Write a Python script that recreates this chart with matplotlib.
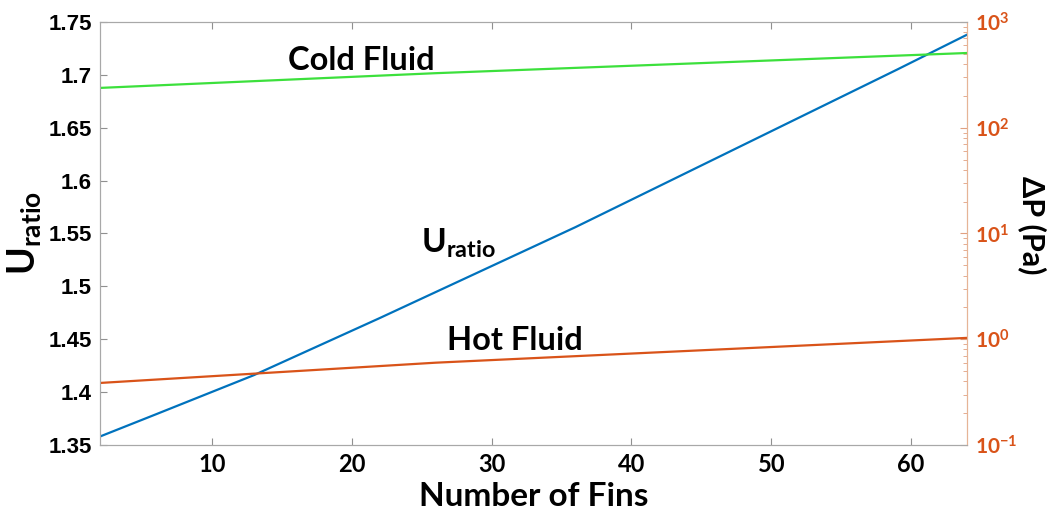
import numpy as np
import matplotlib
matplotlib.use("Agg")
import matplotlib.pyplot as plt
from matplotlib.ticker import FixedLocator, FuncFormatter, LogLocator, NullFormatter

plt.rcParams['mathtext.fontset'] = 'custom'
plt.rcParams['mathtext.bf'] = 'Lato:bold'
plt.rcParams['mathtext.sf'] = 'Lato:bold'
plt.rcParams['mathtext.rm'] = 'Lato'

# values
fins_u = [2, 6, 13, 22, 36, 59, 64]
u_ratio = [1.358, 1.379, 1.416, 1.470, 1.556, 1.705, 1.738]

fins_dp = [2, 26, 64]
dp_cold = [238, 328, 509]
dp_hot = [0.386, 0.60, 1.03]

x_ticks = [10, 20, 30, 40, 50, 60]
u_ticks = [1.35, 1.4, 1.45, 1.5, 1.55, 1.6, 1.65, 1.7, 1.75]

blue = '#0072BD'
orange = '#D95319'
green = '#3CE03C'
ytick_font = {'family': 'Liberation Sans', 'weight': 'bold', 'size': 16}
xtick_font = {'family': 'Lato', 'weight': 'bold', 'size': 17}

fig = plt.figure(figsize=(10.5, 5.21), dpi=100)
ax1 = fig.add_axes([0.0952, 0.1459, 0.8258, 0.8119])
ax2 = ax1.twinx()

ax1.plot(fins_u, u_ratio, color=blue, lw=1.6)
ax2.plot(fins_dp, dp_cold, color=green, lw=1.6)
ax2.plot(fins_dp, dp_hot, color=orange, lw=1.6)

ax1.set_xlim(2, 64)
ax1.set_ylim(1.35, 1.75)
ax1.set_xticks(x_ticks)
ax1.set_yticks(u_ticks)
ax1.set_yticklabels(['%g' % t for t in u_ticks], fontdict=ytick_font)
ax1.set_xticklabels(['%g' % t for t in x_ticks], fontdict=xtick_font)
ax1.tick_params(direction='in', length=5, color='#909090', top=True, right=False, pad=6)

ax2.set_yscale('log')
ax2.set_ylim(0.1, 1000)
ax2.yaxis.set_major_locator(FixedLocator([0.1, 1, 10, 100, 1000]))
ax2.yaxis.set_major_formatter(FuncFormatter(lambda v, p: r'$\mathbf{10^{%d}}$' % round(np.log10(v))))
ax2.yaxis.set_minor_locator(LogLocator(base=10, subs=np.arange(2, 10)))
ax2.yaxis.set_minor_formatter(NullFormatter())
ax2.tick_params(axis='y', which='major', direction='in', length=5, color='#e0a080',
                labelcolor=orange, labelsize=15, pad=6)
ax2.tick_params(axis='y', which='minor', direction='in', length=3, color='#e0a080')

for ax in (ax1, ax2):
    for s in ('left', 'top', 'bottom'):
        ax.spines[s].set_color('#a8a8a8')
    ax.spines['right'].set_color('#e6b496')

ax1.set_xlabel('Number of Fins', fontfamily='Lato', fontweight='bold', fontsize=24, labelpad=4)
ax1.set_ylabel(r'$\mathsf{U_{ratio}}$', fontsize=27, labelpad=4)
ax2.set_ylabel('ΔP (Pa)', fontfamily='Lato', fontweight='bold', fontsize=22,
               rotation=-90, va='center')
ax2.yaxis.set_label_coords(1.075, 0.52)

ann = {'family': 'Lato', 'weight': 'bold', 'size': 23.5}
ax1.text(20.7, 1.714, 'Cold Fluid', ha='center', va='center', fontdict=ann)
ax1.text(31.7, 1.449, 'Hot Fluid', ha='center', va='center', fontdict=ann)
ax1.text(27.6, 1.541, r'$\mathsf{U_{ratio}}$', ha='center', va='center', fontsize=24)

fig.savefig('out.png', dpi=100)
